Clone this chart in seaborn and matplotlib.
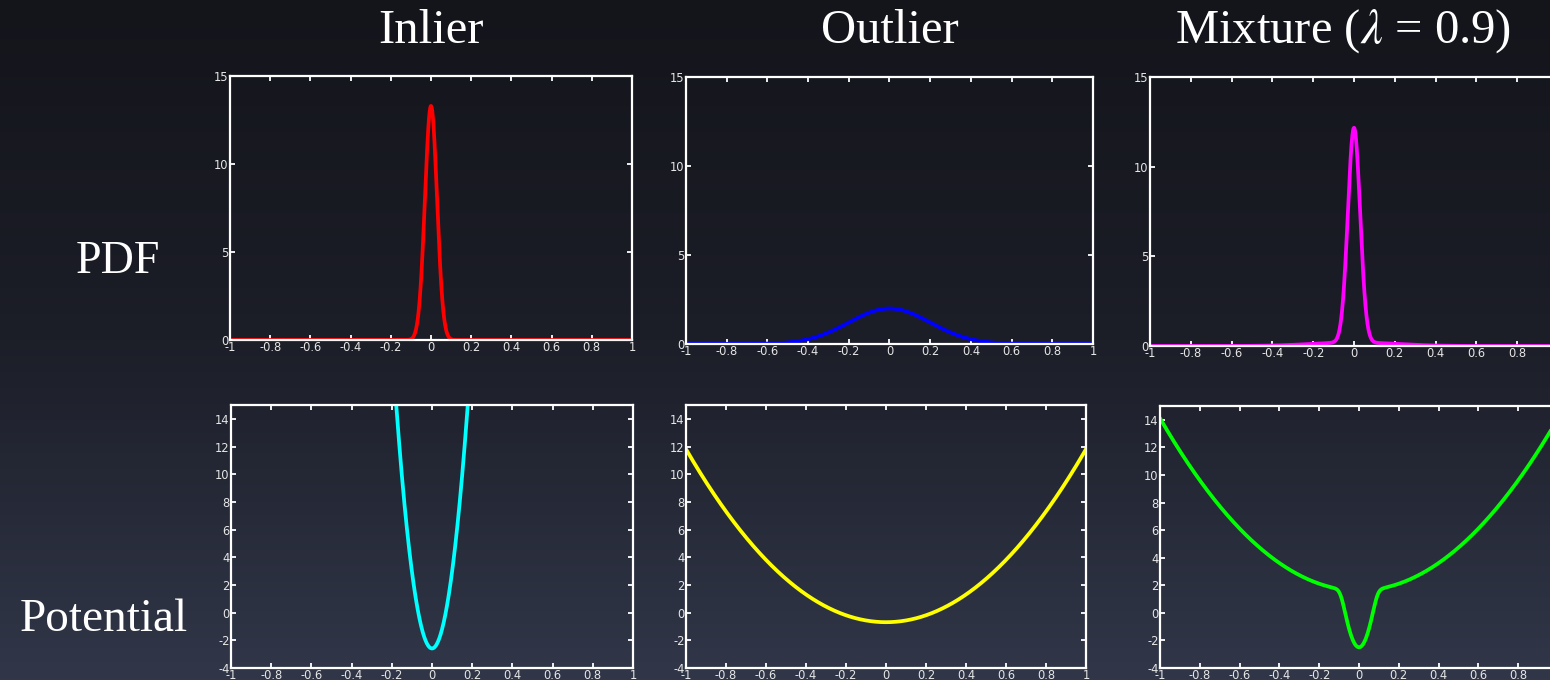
import numpy as np
import matplotlib
matplotlib.use("Agg")
import matplotlib.pyplot as plt
import seaborn as sns

# Values
column_titles = ["Inlier", "Outlier", r"Mixture ($\lambda$ = 0.9)"]
row_titles = ["PDF", "Potential"]
x_limits = [-1, 1]
x_ticks = [-1, -0.8, -0.6, -0.4, -0.2, 0, 0.2, 0.4, 0.6, 0.8, 1]
x_tick_labels = ["-1", "-0.8", "-0.6", "-0.4", "-0.2", "0", "0.2", "0.4", "0.6", "0.8", "1"]
pdf_ylim = [0, 15]
pdf_yticks = [0, 5, 10, 15]
pot_ylim = [-4, 15]
pot_yticks = [-4, -2, 0, 2, 4, 6, 8, 10, 12, 14]

# Gaussian widths estimated from peak heights (13.3 and 2.0) and the mixing weight
sigma_inlier = 0.03
sigma_outlier = 0.2
mix_lambda = 0.9

pdf_colors = ["#ff0000", "#0000ff", "#ff00ff"]
pot_colors = ["#00ffff", "#ffff00", "#00ff00"]

sns.set_theme(style="dark")
plt.rcParams.update({
    "font.family": ["DejaVu Sans"],
    "mathtext.fontset": "stix",
    "axes.facecolor": "none",
})

x = np.linspace(x_limits[0], x_limits[1], 2001)


def gauss(x, s):
    return np.exp(-x ** 2 / (2 * s ** 2)) / (s * np.sqrt(2 * np.pi))


p_in = gauss(x, sigma_inlier)
p_out = gauss(x, sigma_outlier)
p_mix = mix_lambda * p_in + (1 - mix_lambda) * p_out
pdfs = [p_in, p_out, p_mix]
potentials = [-np.log(np.maximum(p, 1e-300)) for p in pdfs]

W, H = 1550, 680
fig = plt.figure(figsize=(W / 100, H / 100), dpi=100)

# background gradient
bg = fig.add_axes([0, 0, 1, 1], zorder=-10)
grad = np.linspace(0, 1, 256).reshape(-1, 1)
cmap = matplotlib.colors.LinearSegmentedColormap.from_list(
    "bg", ["#14151b", "#1c1e28", "#313749"])
bg.imshow(grad, aspect="auto", cmap=cmap, extent=[0, 1, 0, 1])
bg.set_axis_off()


def px_box(l, r, t, b):
    return [l / W, (H - b) / H, (r - l) / W, (b - t) / H]


boxes = [
    [(230, 632, 76, 340), (686, 1093, 77, 344), (1150, 1558, 77, 346)],
    [(231, 633, 405, 668), (686, 1086, 405, 668), (1160, 1558, 406, 668)],
]

for row in range(2):
    for col in range(3):
        ax = fig.add_axes(px_box(*boxes[row][col]))
        if row == 0:
            y = pdfs[col]
            color = pdf_colors[col]
            ylim, yticks = pdf_ylim, pdf_yticks
        else:
            y = potentials[col]
            color = pot_colors[col]
            ylim, yticks = pot_ylim, pot_yticks
        sns.lineplot(x=x, y=y, ax=ax, color=color, linewidth=2.7, sort=False)
        ax.set_xlim(x_limits)
        ax.set_ylim(ylim)
        ax.set_xticks(x_ticks)
        ax.set_xticklabels(x_tick_labels)
        ax.set_yticks(yticks)
        ax.set_yticklabels([str(v) for v in yticks])
        ax.set_xlabel("")
        ax.set_ylabel("")
        ax.grid(False)
        ax.set_facecolor("none")
        for sp in ax.spines.values():
            sp.set_visible(True)
            sp.set_color("white")
            sp.set_linewidth(1.6)
        ax.tick_params(axis="both", direction="in", length=3.5, width=1.3,
                       colors="white", labelcolor="#e6e6e6", labelsize=8.3,
                       top=True, right=True, bottom=True, left=True, pad=1)
        ax.tick_params(axis="x", pad=0.5)

for col, title in enumerate(column_titles):
    l, r, t, b = boxes[0][col]
    cx = (l + r) / 2 if col < 2 else 1343
    fig.text(cx / W, 1 - 31 / H, title, ha="center", va="center",
             color="white", fontsize=35, family=["Liberation Serif"])

fig.text(118 / W, 1 - 262 / H, row_titles[0], ha="center", va="center",
         color="white", fontsize=33, family=["Liberation Serif"])
fig.text(104 / W, 1 - 620 / H, row_titles[1], ha="center", va="center",
         color="white", fontsize=34, family=["Liberation Serif"])

fig.savefig("out.png", dpi=100)
